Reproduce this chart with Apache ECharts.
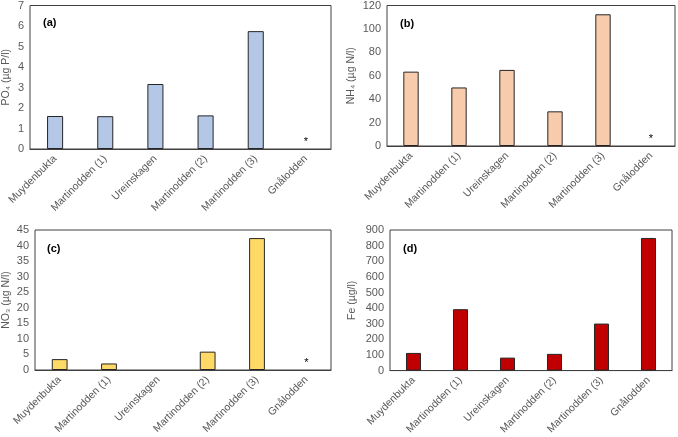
<!DOCTYPE html>
<html>
<head>
<meta charset="utf-8">
<script src="https://cdn.jsdelivr.net/npm/echarts@6/dist/echarts.min.js"></script>
<style>
  html, body { margin: 0; padding: 0; background: #fff; }
  #chart { width: 678px; height: 437px; }
</style>
</head>
<body>
<div id="chart"></div>
<script>
// sites along the x axis (same in all four panels)
const sites = ['Muydenbukta', 'Martinodden (1)', 'Ureinskagen', 'Martinodden (2)', 'Martinodden (3)', 'Gnålodden']

// null = not measured (drawn as *)
const po4 = [1.61, 1.6, 3.17, 1.64, 5.75, null]
const nh4 = [63.5, 50, 65, 29.6, 112.5, null]
const no3 = [3.5, 2.1, 0, 5.9, 42.4, null]
const fe = [113, 393, 83, 107, 301, 849]

const panels = [
  { tag: '(a)', name: 'PO₄ (µg P/l)', values: po4, color: '#B4C7E7', max: 7, interval: 1, nameGap: 18,
    grid: { left: 30, right: 347, top: 4, bottom: 288 } },
  { tag: '(b)', name: 'NH₄ (µg N/l)', values: nh4, color: '#F8CBAD', max: 120, interval: 20, nameGap: 30,
    grid: { left: 387, right: 3, top: 5, bottom: 291 } },
  { tag: '(c)', name: 'NO₃ (µg N/l)', values: no3, color: '#FFD966', max: 45, interval: 5, nameGap: 23,
    grid: { left: 34, right: 347, top: 230, bottom: 67 } },
  { tag: '(d)', name: 'Fe (µg/l)', values: fe, color: '#C00000', max: 900, interval: 100, nameGap: 32,
    grid: { left: 390, right: 6, top: 230, bottom: 66 } }
]

const txt = '#595959'
const chart = echarts.init(document.getElementById('chart'))

chart.setOption({
  animation: false,
  textStyle: { fontFamily: 'Liberation Sans, Arial, sans-serif' },
  title: panels.map(p => ({
    text: p.tag,
    left: p.grid.left + 8,
    top: p.grid.top + 8,
    textStyle: { fontSize: 11, fontWeight: 'bold', color: '#000' }
  })),
  grid: panels.map(p => Object.assign({
    show: true, borderColor: '#404040', borderWidth: 1, containLabel: false
  }, p.grid)),
  xAxis: panels.map((p, i) => ({
    type: 'category',
    gridIndex: i,
    data: sites,
    axisTick: { show: false },
    axisLine: { lineStyle: { color: '#404040' } },
    axisLabel: { rotate: 45, interval: 0, color: txt, fontSize: 10.5, margin: 8 }
  })),
  yAxis: panels.map((p, i) => ({
    type: 'value',
    gridIndex: i,
    min: 0,
    max: p.max,
    interval: p.interval,
    name: p.name,
    nameLocation: 'middle',
    nameGap: p.nameGap,
    nameTextStyle: { color: txt, fontSize: 10.5 },
    splitLine: { show: false },
    axisLine: { show: false },
    axisTick: { show: false },
    axisLabel: { color: txt, fontSize: 11, margin: 6 }
  })),
  series: panels.map((p, i) => ({
    type: 'bar',
    xAxisIndex: i,
    yAxisIndex: i,
    barWidth: '32%',
    itemStyle: { color: p.color, borderColor: '#262626', borderWidth: 1 },
    data: p.values.map(v => {
      if (v === null) {
        return { value: 0, itemStyle: { borderWidth: 0 },
          label: { show: true, position: 'top', distance: 2, formatter: '*', color: '#000', fontSize: 11 } }
      }
      if (v === 0) return { value: 0, itemStyle: { borderWidth: 0 } }
      return v
    })
  }))
})
</script>
</body>
</html>
